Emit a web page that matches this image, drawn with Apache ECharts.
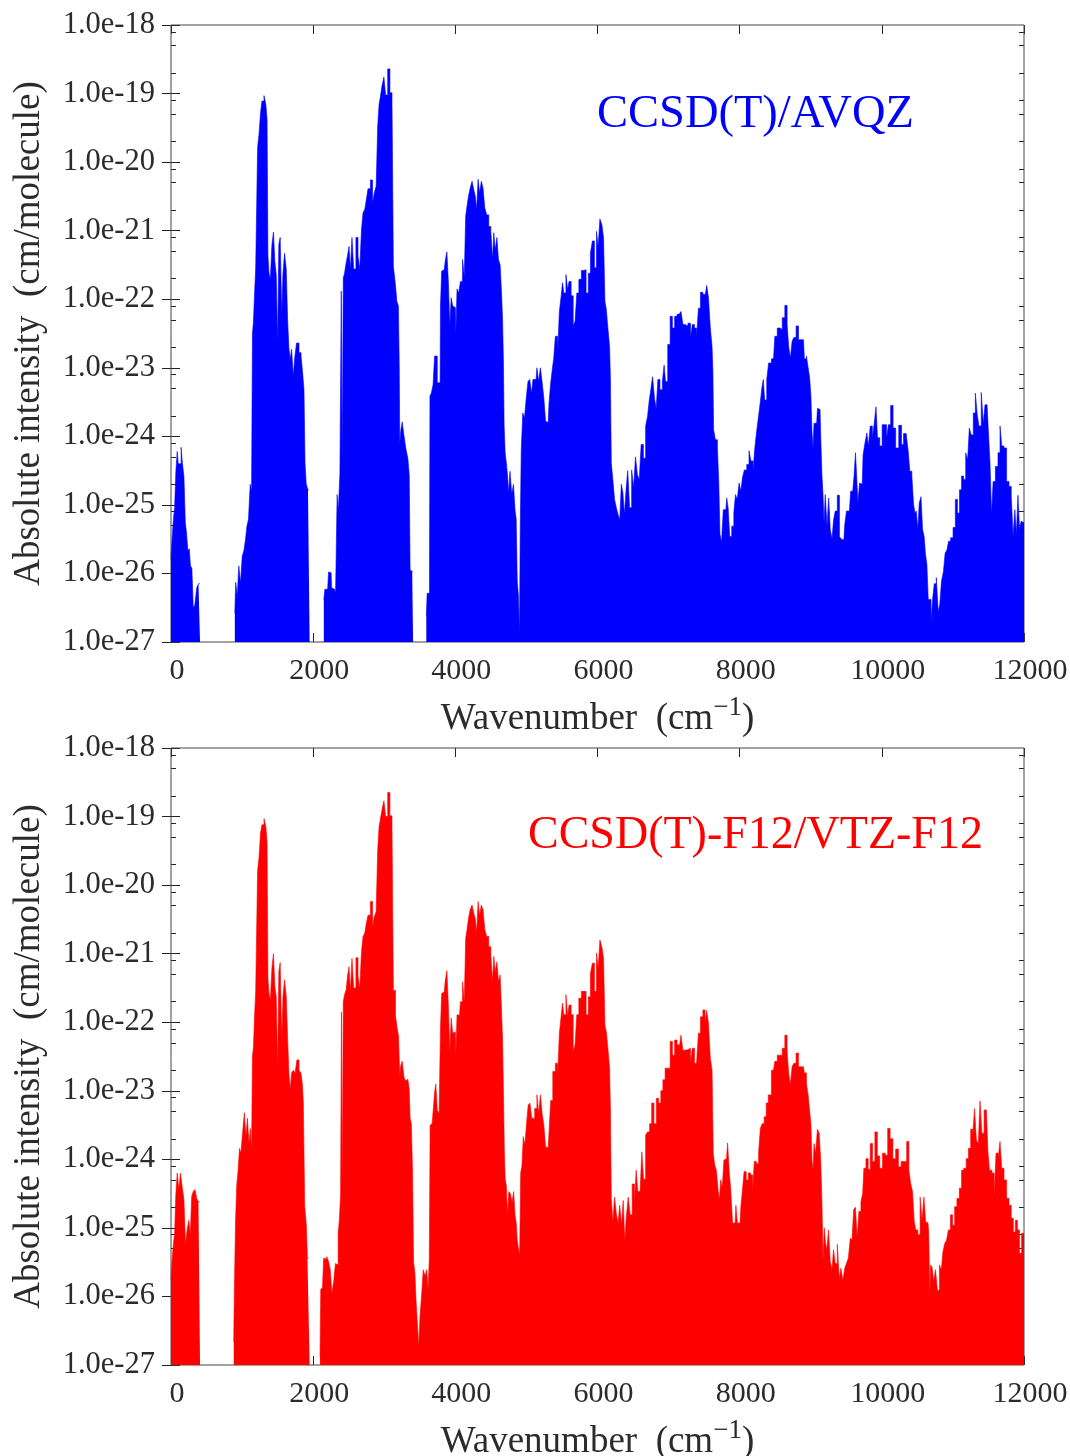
<!DOCTYPE html>
<html>
<head>
<meta charset="utf-8">
<style>
  html, body { margin: 0; padding: 0; background: #fff; }
  #main { width: 1070px; height: 1456px; }
</style>
<script src="https://cdn.jsdelivr.net/npm/echarts@6/dist/echarts.min.js"></script>
</head>
<body>
<div id="main"></div>
<script>
// y values are log10(intensity), so the value axis is the log scale
var minorTicks = [-18.1,-18.3,-18.7,-19.1,-19.3,-19.7,-20.1,-20.3,-20.7,-21.1,-21.3,-21.7,-22.1,-22.3,-22.7,
    -23.1,-23.3,-23.7,-24.1,-24.3,-24.7,-25.1,-25.3,-25.7,-26.1,-26.3,-26.7];

var avqzSpectrum = [
    [0,-25.79],[24,-25.55],[44,-25.21],[58,-25.04],[78,-24.52],[97,-24.22],[107,-24.4],[117,-24.41],[135,-24.4],[150,-24.16],
    [170,-24.39],[194,-24.58],[209,-25.26],[228,-25.41],[247,-25.67],[267,-25.64],[281,-25.89],[306,-25.92],[320,-26.5],[350,-26.46],
    [374,-26.21],[398,-26.15],[408,-26.15],[409,null],[897,null],
    [898,-26.58],[922,-26.13],[942,-26.33],[966,-25.89],[990,-26.14],[1014,-25.75],[1039,-25.66],[1058,-25.5],[1078,-25.31],[1102,-25.21],
    [1126,-24.7],[1141,-24.8],[1150,-22.51],[1170,-22.32],[1184,-21.88],[1199,-21.54],[1213,-21.56],[1223,-19.79],[1252,-19.6],[1267,-19.28],
    [1291,-19.11],[1325,-19.03],[1344,-19.16],[1359,-19.38],[1369,-21.37],[1388,-21.62],[1408,-21.71],[1432,-21.2],[1451,-21.02],[1471,-21.45],
    [1490,-21.64],[1510,-22.64],[1524,-21.2],[1548,-21.1],[1568,-22.22],[1582,-21.63],[1612,-21.33],[1631,-21.56],[1650,-22.3],[1670,-22.73],
    [1684,-22.87],[1709,-22.73],[1733,-23.12],[1745,-22.87],[1786,-22.64],[1815,-22.78],[1844,-22.83],[1864,-23.1],[1878,-23.32],[1893,-24.39],
    [1912,-24.7],[1942,-24.78],[1950,-24.78],[1951,null],[2149,null],
    [2150,-26.38],[2180,-26.23],[2204,-26.23],[2228,-25.98],[2252,-25.99],[2267,-26.21],[2301,-26.23],[2330,-26.28],[2344,-24.85],[2364,-25.09],
    [2388,-24.54],[2403,-21.88],[2415,-24.3],[2432,-21.69],[2451,-21.62],[2476,-21.47],[2495,-21.35],[2514,-21.23],[2534,-21.57],[2558,-21.1],
    [2582,-21.56],[2621,-21.1],[2641,-21.37],[2670,-21.56],[2690,-20.98],[2713,-20.74],[2738,-20.69],[2757,-20.55],[2786,-20.39],[2825,-20.26],
    [2845,-20.6],[2874,-20.45],[2898,-20.35],[2917,-19.48],[2937,-19.16],[2956,-19.04],[2980,-18.89],[3010,-18.76],[3029,-19.02],[3068,-18.64],
    [3092,-18.99],[3126,-19.11],[3131,-21.52],[3150,-21.53],[3165,-21.79],[3189,-22.03],[3209,-22.1],[3213,-22.95],[3223,-24.12],[3238,-23.93],
    [3267,-23.79],[3291,-24.0],[3320,-24.19],[3344,-24.32],[3359,-24.56],[3369,-25.95],[3393,-25.97],[3405,-25.97],[3406,null],[3431,null],[3432,-26.86],[3440,-26.86],[3441,null],[3591,null],
    [3592,-26.62],[3616,-26.29],[3636,-26.29],[3650,-23.41],[3674,-23.37],[3699,-23.25],[3718,-22.83],[3735,-22.83],[3757,-23.22],[3786,-23.22],
    [3796,-22.1],[3820,-21.59],[3844,-21.57],[3869,-21.45],[3893,-21.31],[3912,-21.76],[3932,-22.39],[3951,-21.98],[3975,-22.1],[4000,-22.12],
    [4014,-22.51],[4034,-21.85],[4058,-21.91],[4087,-21.74],[4116,-21.42],[4136,-21.67],[4155,-20.79],[4174,-20.64],[4194,-20.5],[4223,-20.38],
    [4247,-20.28],[4271,-20.4],[4291,-20.5],[4310,-20.69],[4330,-20.25],[4354,-20.45],[4378,-20.28],[4402,-20.38],[4427,-20.67],[4456,-20.77],
    [4485,-20.94],[4514,-21.01],[4534,-21.42],[4548,-21.03],[4573,-21.28],[4597,-21.1],[4616,-21.42],[4645,-21.5],[4655,-21.91],[4674,-22.3],
    [4679,-22.9],[4694,-23.85],[4708,-24.24],[4728,-24.39],[4742,-24.58],[4757,-24.83],[4781,-24.51],[4806,-24.84],[4830,-24.7],[4849,-25.07],
    [4864,-25.21],[4878,-26.11],[4898,-26.33],[4908,-26.9],[4917,-25.41],[4937,-24.22],[4961,-23.66],[4985,-23.73],[5010,-23.44],[5034,-23.2],
    [5058,-23.17],[5087,-23.37],[5097,-23.17],[5136,-23.17],[5160,-23.0],[5184,-23.2],[5209,-23.0],[5233,-23.21],[5257,-23.44],[5282,-23.78],
    [5306,-23.8],[5330,-23.51],[5354,-23.22],[5379,-23.0],[5388,-22.87],[5427,-22.54],[5451,-22.78],[5476,-22.18],[5500,-21.96],[5515,-21.76],
    [5539,-21.91],[5573,-21.64],[5587,-21.86],[5612,-21.74],[5646,-21.95],[5670,-22.39],[5699,-22.32],[5719,-21.91],[5757,-21.71],[5791,-21.58],
    [5825,-21.57],[5854,-21.91],[5888,-21.62],[5913,-21.33],[5942,-21.15],[5971,-21.54],[6000,-21.01],[6019,-21.23],[6049,-20.83],[6073,-20.91],
    [6097,-21.1],[6112,-22.03],[6136,-22.15],[6160,-22.44],[6180,-22.69],[6184,-23.17],[6204,-24.39],[6228,-24.63],[6252,-24.92],[6277,-25.04],
    [6301,-25.14],[6325,-25.22],[6345,-24.7],[6369,-24.82],[6388,-25.14],[6413,-24.8],[6437,-24.5],[6466,-25.04],[6495,-24.49],[6520,-24.75],
    [6549,-24.3],[6573,-24.56],[6602,-24.63],[6626,-24.12],[6665,-24.32],[6689,-23.85],[6719,-23.71],[6738,-23.47],[6762,-23.32],[6787,-23.13],
    [6816,-23.44],[6835,-23.6],[6864,-23.17],[6893,-23.32],[6932,-23.2],[6942,-22.96],[6971,-23.2],[7005,-22.66],[7039,-22.25],[7068,-22.42],
    [7102,-22.25],[7136,-22.22],[7160,-22.2],[7189,-22.18],[7214,-22.37],[7248,-22.39],[7296,-22.35],[7320,-22.56],[7349,-22.37],[7379,-22.42],
    [7408,-22.56],[7432,-22.13],[7466,-21.9],[7500,-21.93],[7524,-21.96],[7549,-21.8],[7573,-21.98],[7602,-22.42],[7621,-22.69],[7626,-23.05],
    [7641,-23.9],[7675,-24.05],[7699,-24.17],[7713,-24.66],[7733,-25.43],[7757,-25.54],[7782,-25.07],[7806,-25.07],[7830,-24.9],[7845,-25.04],
    [7874,-25.46],[7903,-25.31],[7932,-25.12],[7951,-24.85],[7980,-24.92],[8005,-24.68],[8029,-24.8],[8049,-24.6],[8083,-24.49],[8117,-24.41],
    [8146,-24.21],[8170,-24.36],[8204,-24.52],[8224,-24.16],[8253,-23.93],[8277,-23.71],[8306,-23.49],[8325,-23.27],[8340,-23.17],[8364,-23.47],
    [8398,-23.17],[8417,-22.93],[8476,-22.87],[8514,-22.54],[8544,-22.42],[8583,-22.44],[8616,-22.27],[8655,-22.09],[8680,-22.37],[8699,-22.69],
    [8728,-22.86],[8748,-22.61],[8777,-22.56],[8811,-22.39],[8844,-22.59],[8874,-22.61],[8898,-22.59],[8922,-22.87],[8956,-22.83],[8971,-23.0],
    [8995,-23.13],[9010,-23.41],[9024,-23.93],[9039,-24.17],[9053,-23.81],[9083,-23.81],[9107,-23.59],[9131,-23.61],[9151,-24.02],[9165,-24.58],
    [9180,-24.85],[9194,-25.26],[9214,-24.85],[9243,-25.31],[9262,-24.9],[9287,-25.36],[9311,-25.5],[9330,-25.22],[9359,-25.09],[9389,-24.86],
    [9418,-25.46],[9442,-25.5],[9466,-25.51],[9490,-25.29],[9515,-25.09],[9544,-25.09],[9578,-24.8],[9602,-24.78],[9617,-24.58],[9641,-24.24],
    [9651,-24.58],[9675,-24.97],[9699,-24.68],[9724,-24.7],[9748,-24.27],[9777,-24.1],[9801,-23.95],[9820,-24.14],[9854,-23.85],[9879,-24.02],
    [9908,-23.81],[9927,-23.57],[9951,-24.02],[9990,-24.14],[10019,-23.83],[10053,-23.83],[10078,-24.04],[10107,-23.83],[10141,-23.55],[10175,-23.88],
    [10214,-24.17],[10262,-23.84],[10291,-24.12],[10320,-23.96],[10364,-23.95],[10379,-24.22],[10408,-24.51],[10437,-24.58],[10456,-24.99],[10476,-25.12],
    [10495,-25.09],[10515,-25.36],[10539,-24.97],[10563,-24.88],[10583,-25.36],[10607,-25.46],[10622,-25.72],[10646,-25.87],[10660,-26.38],[10680,-26.38],
    [10704,-26.71],[10723,-26.38],[10752,-26.15],[10781,-26.06],[10806,-26.56],[10825,-26.45],[10854,-26.11],[10879,-25.97],[10903,-25.7],[10927,-25.66],
    [10951,-25.53],[10985,-25.48],[11019,-25.33],[11049,-24.92],[11078,-25.12],[11107,-24.78],[11136,-24.58],[11165,-24.63],[11195,-24.24],[11219,-24.34],
    [11243,-23.88],[11272,-23.98],[11301,-23.66],[11330,-23.37],[11354,-23.68],[11379,-23.85],[11418,-23.36],[11437,-23.81],[11466,-23.54],[11495,-23.54],
    [11510,-24.0],[11534,-24.39],[11553,-25.14],[11578,-24.66],[11617,-24.44],[11651,-24.24],[11675,-23.85],[11699,-24.14],[11738,-24.17],[11772,-24.66],
    [11806,-24.73],[11835,-24.87],[11859,-25.46],[11883,-25.07],[11903,-25.43],[11927,-24.86],[11947,-25.36],[11971,-25.24],[12000,-25.26]
];

var f12Spectrum = [
    [0,-25.76],[24,-25.51],[44,-25.23],[58,-25.08],[78,-24.51],[97,-24.2],[107,-24.35],[117,-24.42],[150,-24.2],[170,-24.42],
    [194,-24.59],[214,-25.25],[238,-25.03],[262,-24.89],[281,-25.1],[301,-24.54],[325,-24.47],[350,-24.44],[374,-24.57],[398,-24.62],[408,-24.62],[409,null],[882,null],
    [883,-26.67],[898,-25.95],[917,-24.93],[932,-24.38],[956,-24.16],[971,-23.84],[995,-23.91],[1019,-23.62],[1044,-23.32],[1063,-23.67],
    [1087,-23.4],[1107,-23.77],[1126,-23.55],[1141,-23.89],[1150,-22.5],[1170,-22.36],[1184,-21.87],[1199,-21.54],[1213,-21.56],[1223,-19.79],
    [1252,-19.61],[1267,-19.24],[1291,-19.12],[1325,-19.03],[1344,-19.15],[1359,-19.38],[1369,-21.36],[1388,-21.58],[1408,-21.68],[1432,-21.2],
    [1451,-21.0],[1471,-21.48],[1490,-21.63],[1510,-22.66],[1524,-21.26],[1548,-21.13],[1568,-22.26],[1582,-21.63],[1612,-21.38],[1631,-21.62],
    [1650,-22.23],[1670,-22.77],[1684,-22.98],[1709,-22.74],[1733,-22.7],[1757,-22.74],[1786,-22.55],[1815,-22.7],[1840,-22.74],[1854,-22.89],
    [1869,-23.16],[1893,-24.68],[1912,-24.94],[1927,-25.44],[1942,-25.44],[1950,-25.44],[1951,null],[2096,null],
    [2097,-26.88],[2116,-25.9],[2146,-25.87],[2150,-25.44],[2180,-25.46],[2204,-25.42],[2228,-25.49],[2252,-25.61],[2277,-25.95],[2301,-25.78],
    [2325,-25.52],[2344,-25.54],[2359,-25.08],[2378,-24.88],[2393,-24.52],[2403,-21.85],[2415,-24.33],[2432,-21.7],[2451,-21.6],[2476,-21.53],
    [2495,-21.31],[2514,-21.19],[2534,-21.55],[2558,-21.07],[2582,-21.5],[2621,-21.06],[2641,-21.33],[2670,-21.5],[2690,-20.97],[2713,-20.75],
    [2738,-20.7],[2757,-20.56],[2786,-20.44],[2825,-20.24],[2845,-20.61],[2874,-20.46],[2898,-20.39],[2917,-19.49],[2937,-19.15],[2956,-19.03],
    [2980,-18.9],[3010,-18.77],[3029,-19.0],[3068,-18.65],[3092,-18.99],[3126,-19.12],[3131,-21.55],[3150,-21.53],[3165,-21.89],[3189,-22.06],
    [3213,-22.2],[3223,-22.8],[3238,-22.64],[3267,-22.57],[3291,-22.81],[3320,-22.86],[3344,-22.83],[3359,-22.98],[3369,-23.4],[3393,-23.48],
    [3403,-24.18],[3422,-25.49],[3441,-25.66],[3456,-26.08],[3476,-26.1],[3495,-26.73],[3510,-26.29],[3534,-26.03],[3563,-25.61],[3587,-25.7],
    [3607,-25.61],[3626,-25.9],[3641,-25.46],[3650,-23.5],[3674,-23.48],[3699,-23.31],[3718,-23.02],[3733,-22.9],[3757,-23.28],[3786,-23.33],
    [3796,-22.08],[3820,-21.58],[3844,-21.56],[3869,-21.41],[3893,-21.25],[3912,-21.77],[3932,-22.43],[3951,-21.94],[3975,-22.16],[4000,-22.14],
    [4014,-22.48],[4034,-21.89],[4058,-21.9],[4087,-21.7],[4116,-21.41],[4136,-21.7],[4155,-20.78],[4174,-20.65],[4194,-20.49],[4223,-20.36],
    [4247,-20.29],[4271,-20.41],[4291,-20.49],[4310,-20.7],[4330,-20.24],[4354,-20.44],[4378,-20.29],[4402,-20.36],[4427,-20.65],[4456,-20.75],
    [4485,-20.9],[4514,-21.02],[4534,-21.41],[4548,-21.04],[4573,-21.26],[4597,-21.12],[4616,-21.41],[4645,-21.31],[4655,-21.82],[4674,-22.26],
    [4684,-23.14],[4694,-23.84],[4708,-24.28],[4728,-24.39],[4742,-24.81],[4762,-24.47],[4786,-24.5],[4811,-24.62],[4830,-24.47],[4849,-24.81],
    [4864,-24.93],[4878,-25.18],[4898,-25.3],[4912,-25.4],[4927,-24.2],[4946,-24.1],[4966,-23.67],[4990,-23.79],[5015,-23.47],[5034,-23.21],
    [5063,-23.18],[5087,-23.4],[5097,-23.4],[5136,-23.26],[5160,-23.06],[5184,-23.33],[5209,-23.06],[5233,-23.33],[5257,-23.5],[5282,-23.82],
    [5306,-23.83],[5330,-23.6],[5354,-23.14],[5388,-22.72],[5427,-22.6],[5451,-22.8],[5476,-22.16],[5500,-21.92],[5515,-21.72],[5539,-21.89],
    [5573,-21.6],[5587,-21.92],[5612,-21.75],[5646,-21.89],[5670,-22.43],[5699,-22.33],[5718,-21.89],[5757,-21.65],[5791,-21.55],[5825,-21.55],
    [5854,-21.89],[5888,-21.63],[5913,-21.29],[5942,-21.14],[5971,-21.55],[6000,-20.99],[6019,-21.21],[6049,-20.8],[6073,-20.9],[6097,-21.07],
    [6112,-22.04],[6136,-22.14],[6160,-22.4],[6180,-22.67],[6184,-23.28],[6204,-24.57],[6228,-24.91],[6252,-24.55],[6277,-24.79],[6301,-24.93],
    [6325,-24.67],[6349,-24.96],[6374,-24.6],[6393,-25.18],[6417,-24.84],[6447,-24.55],[6471,-24.81],[6505,-24.36],[6534,-24.64],[6553,-24.16],
    [6582,-24.47],[6616,-24.45],[6631,-23.89],[6665,-24.29],[6689,-23.65],[6718,-23.6],[6748,-23.48],[6777,-23.18],[6811,-23.48],[6845,-23.11],
    [6874,-23.18],[6908,-23.0],[6932,-22.84],[6971,-22.67],[7005,-22.67],[7039,-22.28],[7068,-22.48],[7102,-22.26],[7136,-22.33],[7160,-22.38],
    [7189,-22.19],[7214,-22.41],[7248,-22.4],[7296,-22.38],[7320,-22.6],[7349,-22.38],[7379,-22.6],[7408,-22.6],[7432,-22.16],[7466,-21.92],
    [7500,-21.82],[7524,-22.01],[7548,-21.83],[7573,-22.01],[7602,-22.53],[7621,-22.7],[7636,-23.91],[7660,-24.08],[7684,-24.16],[7709,-24.45],
    [7723,-24.59],[7743,-24.3],[7767,-24.41],[7791,-24.01],[7815,-23.99],[7845,-23.76],[7864,-24.2],[7888,-24.47],[7912,-24.93],[7937,-24.93],
    [7956,-24.67],[7980,-24.93],[8005,-24.93],[8029,-24.69],[8048,-24.45],[8077,-24.18],[8107,-24.3],[8136,-24.2],[8170,-24.23],[8194,-24.45],
    [8218,-24.03],[8252,-24.06],[8281,-23.89],[8301,-23.55],[8330,-23.48],[8359,-23.38],[8388,-23.18],[8417,-23.06],[8476,-22.7],[8514,-22.57],
    [8544,-22.48],[8582,-22.48],[8616,-22.38],[8655,-22.19],[8679,-22.41],[8699,-22.74],[8728,-22.91],[8747,-22.65],[8777,-22.6],[8810,-22.45],
    [8844,-22.65],[8874,-22.63],[8898,-22.65],[8922,-22.74],[8956,-22.89],[8971,-23.06],[8995,-23.28],[9010,-23.48],[9024,-24.01],[9039,-24.16],
    [9053,-23.77],[9082,-23.91],[9107,-23.56],[9131,-23.62],[9150,-24.03],[9165,-24.62],[9180,-25.48],[9199,-25.0],[9214,-25.21],[9238,-25.32],
    [9262,-25.03],[9286,-25.49],[9311,-25.61],[9330,-25.32],[9359,-25.52],[9388,-25.24],[9413,-25.74],[9437,-25.59],[9466,-25.77],[9490,-25.59],
    [9514,-25.52],[9544,-25.44],[9568,-25.15],[9592,-25.18],[9616,-24.73],[9641,-24.7],[9665,-25.15],[9689,-24.76],[9723,-24.62],[9738,-24.5],
    [9757,-24.13],[9796,-23.99],[9820,-24.15],[9854,-23.77],[9883,-24.03],[9922,-23.6],[9951,-23.95],[9990,-24.13],[10029,-23.91],[10068,-23.94],
    [10097,-23.55],[10136,-23.7],[10175,-23.99],[10214,-23.85],[10252,-24.11],[10291,-24.03],[10330,-24.03],[10369,-23.74],[10393,-24.16],[10417,-24.35],
    [10446,-24.47],[10466,-24.91],[10490,-25.03],[10524,-25.1],[10553,-24.55],[10577,-24.89],[10607,-24.55],[10626,-24.91],[10650,-24.93],[10670,-25.08],
    [10679,-26.0],[10694,-25.54],[10718,-25.57],[10742,-25.78],[10767,-25.61],[10796,-25.91],[10825,-25.54],[10849,-25.61],[10869,-25.35],[10898,-25.23],
    [10922,-25.18],[10951,-25.03],[10980,-24.81],[11009,-24.96],[11039,-24.69],[11073,-24.57],[11107,-24.42],[11136,-24.16],[11170,-24.13],[11204,-23.99],
    [11233,-23.84],[11267,-23.56],[11291,-23.65],[11316,-23.26],[11345,-23.72],[11369,-23.77],[11393,-23.15],[11422,-23.62],[11456,-23.28],[11485,-23.26],
    [11500,-23.89],[11529,-24.16],[11568,-24.2],[11592,-24.55],[11621,-23.91],[11650,-23.99],[11675,-23.74],[11699,-24.13],[11738,-24.3],[11772,-24.57],
    [11806,-24.67],[11835,-24.86],[11864,-25.06],[11893,-24.89],[11922,-25.03],[11951,-25.37],[11981,-25.08],[12000,-25.08]
];

var labelFont = 'Liberation Serif';
var textColor = '#2b2b2b';
var tickColor = '#222';

function frameGrid(top) {
    return {
        left: 171, right: 46, top: top, height: 617,
        outerBoundsMode: 'none',
        show: true, z: 3, borderWidth: 1, borderColor: '#444', backgroundColor: 'transparent'
    };
}

function xAxes(gridIndex) {
    return [
        {
            type: 'value', gridIndex: gridIndex, position: 'bottom', min: 0, max: 12000, interval: 2000,
            splitLine: { show: false },
            axisLine: { show: false },
            axisTick: { show: true, inside: true, length: 9, lineStyle: { color: tickColor } },
            axisLabel: {
                fontFamily: labelFont, fontSize: 30, color: textColor, margin: 14, padding: [0, 0, 0, 12],
                formatter: function (v) { return String(v); }
            },
            name: 'Wavenumber  (cm{sup|\u22121})',
            nameLocation: 'middle', nameGap: 52,
            nameTextStyle: {
                fontFamily: labelFont, fontSize: 37, color: textColor,
                rich: { sup: { fontFamily: labelFont, fontSize: 27, color: textColor, padding: [0, 0, 24, 0] } }
            }
        },
        {
            type: 'value', gridIndex: gridIndex, position: 'top', min: 0, max: 12000, interval: 2000,
            splitLine: { show: false },
            axisLine: { show: false },
            axisTick: { show: true, inside: true, length: 9, lineStyle: { color: tickColor } },
            axisLabel: { show: false }
        }
    ];
}

function yAxes(gridIndex) {
    var base = { type: 'value', gridIndex: gridIndex, min: -27, max: -18, interval: 1, splitLine: { show: false }, axisLine: { show: false } };
    var major = { show: true, inside: true, length: 9, lineStyle: { color: tickColor } };
    var minor = { show: true, inside: true, length: 5, lineStyle: { color: tickColor }, customValues: minorTicks };
    return [
        Object.assign({}, base, {
            position: 'left', axisTick: major,
            axisLabel: {
                fontFamily: labelFont, fontSize: 30.5, color: textColor, margin: 16,
                formatter: function (v) { return '1.0e' + v; }
            },
            name: 'Absolute intensity  (cm/molecule)',
            nameLocation: 'middle', nameGap: 123, nameRotate: 90,
            nameTextStyle: { fontFamily: labelFont, fontSize: 37, color: textColor }
        }),
        Object.assign({}, base, { position: 'right', axisTick: major, axisLabel: { show: false } }),
        Object.assign({}, base, { position: 'left', axisTick: minor, axisLabel: { show: false } }),
        Object.assign({}, base, { position: 'right', axisTick: minor, axisLabel: { show: false } })
    ];
}

function spectrumSeries(data, color, xIndex, yIndex) {
    return {
        type: 'line',
        xAxisIndex: xIndex,
        yAxisIndex: yIndex,
        data: data,
        step: 'middle',
        showSymbol: false,
        symbol: 'none',
        connectNulls: false,
        sampling: null,
        silent: true,
        lineStyle: { width: 0.6, color: color },
        itemStyle: { color: color },
        areaStyle: { origin: 'start', color: color, opacity: 1 }
    };
}

var chart = echarts.init(document.getElementById('main'), null, { renderer: 'canvas' });
chart.setOption({
    animation: false,
    backgroundColor: '#fff',
    title: [
        { text: 'CCSD(T)/AVQZ', left: 592, top: 86, textStyle: { fontFamily: labelFont, fontSize: 46.5, fontWeight: 'normal', color: '#0000ff' } },
        { text: 'CCSD(T)-F12/VTZ-F12', left: 523, top: 808, textStyle: { fontFamily: labelFont, fontSize: 46, fontWeight: 'normal', color: '#ff0000' } }
    ],
    grid: [frameGrid(25), frameGrid(748)],
    xAxis: xAxes(0).concat(xAxes(1)),
    yAxis: yAxes(0).concat(yAxes(1)),
    series: [
        spectrumSeries(avqzSpectrum, '#0000ff', 0, 0),
        spectrumSeries(f12Spectrum, '#ff0000', 2, 4)
    ]
});
</script>
</body>
</html>
